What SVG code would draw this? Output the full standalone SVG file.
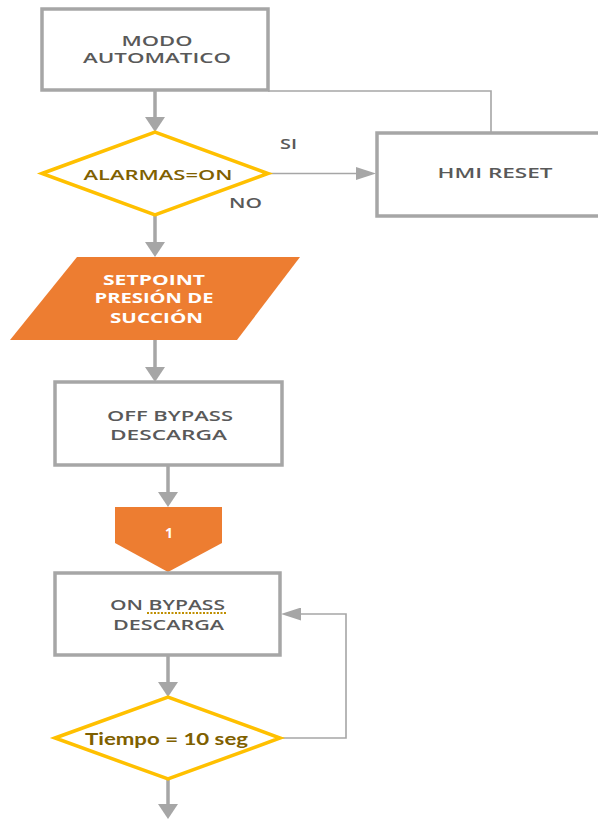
<svg xmlns="http://www.w3.org/2000/svg" width="598" height="820" viewBox="0 0 598 820">
<style>
.box{fill:#fff;stroke:#a6a6a6;stroke-width:3.5}
.dia{fill:#fff;stroke:#ffc000;stroke-width:3.5;stroke-linejoin:miter}
.org{fill:#ed7d31;stroke:none}
.t{font-family:"Open Sans","Liberation Sans",sans-serif;font-weight:600;font-size:14.5px;fill:#595959;text-anchor:middle}
.tw{font-family:"Open Sans","Liberation Sans",sans-serif;font-weight:700;font-size:14px;fill:#fff;text-anchor:middle}
.tg{font-family:"Open Sans","Liberation Sans",sans-serif;font-weight:600;font-size:15px;fill:#7f6000;text-anchor:middle}
.tl{font-family:Lato,"Liberation Sans",sans-serif;font-weight:700;font-size:17px;fill:#7f6000;text-anchor:middle}
.c{fill:none;stroke:#a6a6a6;stroke-width:3.5}
.ct{fill:none;stroke:#a6a6a6;stroke-width:1.6}
</style>
<defs>
<marker id="ah" markerUnits="userSpaceOnUse" viewBox="0 0 15 20" markerWidth="15" markerHeight="20" refX="9" refY="10" orient="auto">
<path d="M0,0 L15,10 L0,20 z" fill="#a6a6a6"/>
</marker>
<marker id="as" markerUnits="userSpaceOnUse" viewBox="0 0 20 13" markerWidth="20" markerHeight="13" refX="16" refY="6.5" orient="auto">
<path d="M0,0 L20,6.5 L0,13 z" fill="#a6a6a6"/>
</marker>
</defs>
<g id="connectors">
<line class="c" x1="155" y1="91" x2="155" y2="126" marker-end="url(#ah)"/>
<line class="c" x1="155" y1="215" x2="155" y2="251" marker-end="url(#ah)"/>
<line class="c" x1="155" y1="340" x2="155" y2="376" marker-end="url(#ah)"/>
<line class="c" x1="168" y1="466" x2="168" y2="501" marker-end="url(#ah)"/>
<line class="c" x1="168" y1="656" x2="168" y2="691" marker-end="url(#ah)"/>
<line class="c" x1="168" y1="780" x2="168" y2="813" marker-end="url(#ah)"/>
<line class="ct" x1="268" y1="173.5" x2="372" y2="173.5" marker-end="url(#as)"/>
<polyline class="ct" points="491,133 491,91 268,91"/>
<polyline class="ct" points="280,738 346,738 346,614 285,614" marker-end="url(#as)"/>
</g>
<g id="modo-automatico">
<rect class="box" x="42" y="9" width="226" height="81"/>
<text class="t" x="157" y="45.5" textLength="71" lengthAdjust="spacingAndGlyphs">MODO</text>
<text class="t" x="157" y="63" textLength="148" lengthAdjust="spacingAndGlyphs">AUTOMATICO</text>
</g>
<g id="alarmas">
<polygon class="dia" points="42,173.5 155,132 268,173.5 155,215"/>
<text class="tg" x="158" y="180" textLength="149" lengthAdjust="spacingAndGlyphs">ALARMAS=ON</text>
</g>
<g id="label-si"><text class="t" x="288.5" y="149" font-size="13.5" textLength="17" lengthAdjust="spacingAndGlyphs">SI</text></g>
<g id="label-no"><text class="t" x="245.5" y="208" font-size="13.5" textLength="33" lengthAdjust="spacingAndGlyphs">NO</text></g>
<g id="hmi-reset">
<rect class="box" x="377" y="133" width="240" height="83"/>
<text class="t" x="495" y="178" textLength="115" lengthAdjust="spacingAndGlyphs">HMI RESET</text>
</g>
<g id="setpoint">
<polygon class="org" points="77,257 300,257 237,340 10,340"/>
<text class="tw" x="154" y="285" textLength="102" lengthAdjust="spacingAndGlyphs">SETPOINT</text>
<text class="tw" x="154" y="303" textLength="119" lengthAdjust="spacingAndGlyphs">PRESIÓN DE</text>
<text class="tw" x="156.5" y="323" textLength="93" lengthAdjust="spacingAndGlyphs">SUCCIÓN</text>
</g>
<g id="off-bypass">
<rect class="box" x="55" y="382" width="227" height="83"/>
<text class="t" x="170" y="421" textLength="126" lengthAdjust="spacingAndGlyphs">OFF BYPASS</text>
<text class="t" x="168.5" y="440" textLength="117" lengthAdjust="spacingAndGlyphs">DESCARGA</text>
</g>
<g id="connector-1">
<polygon class="org" points="115,507 222,507 222,543 168,572 115,543"/>
<text class="tw" x="169" y="538">1</text>
</g>
<g id="on-bypass">
<rect class="box" x="55" y="573" width="225" height="82"/>
<text class="t" x="167.5" y="610" textLength="115" lengthAdjust="spacingAndGlyphs">ON BYPASS</text>
<line x1="147" y1="613" x2="227" y2="613" stroke="#bf8f00" stroke-width="2" stroke-dasharray="2,1.5"/>
<text class="t" x="168.5" y="630" textLength="111" lengthAdjust="spacingAndGlyphs">DESCARGA</text>
</g>
<g id="tiempo">
<polygon class="dia" points="55,738 168,697 280,738 168,779"/>
<text class="tl" x="166.5" y="745" textLength="163" lengthAdjust="spacingAndGlyphs">Tiempo = 10 seg</text>
</g>
</svg>
